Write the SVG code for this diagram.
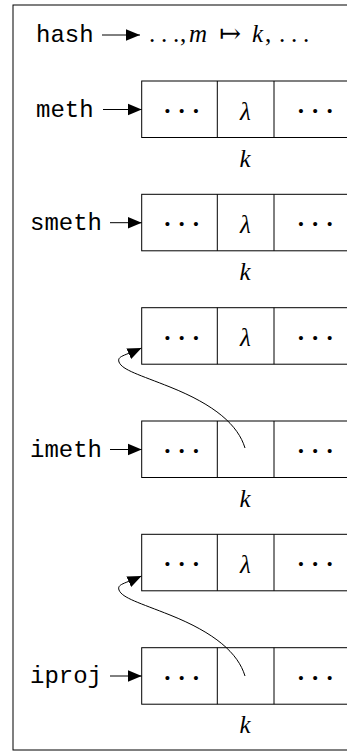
<svg xmlns="http://www.w3.org/2000/svg" width="347" height="751" viewBox="0 0 347 751">
<defs>
<style>
.tt{font-family:"Liberation Mono","DejaVu Sans Mono",monospace;font-size:24px;fill:#000}
.mi{font-family:"Liberation Serif","DejaVu Serif",serif;font-style:italic;font-size:25px;fill:#000}
.rm{font-family:"Liberation Serif","DejaVu Serif",serif;font-size:25px;fill:#000}
.dots{font-family:"Liberation Serif","DejaVu Serif",serif;font-size:34px;letter-spacing:3px;fill:#000}
.box{fill:#fff;stroke:#000;stroke-width:1}
.ln{fill:none;stroke:#000;stroke-width:1}
.ar{fill:none;stroke:#000;stroke-width:1;marker-end:url(#ah)}
</style>
<marker id="ah" markerUnits="userSpaceOnUse" markerWidth="15" markerHeight="13" refX="14" refY="6.5" orient="auto" viewBox="0 0 15 13">
<path d="M0,0.7 L14,6.5 L0,12.3 Z" fill="#000"/>
</marker>
</defs>
<rect x="13" y="5" width="360" height="745" fill="#fff" stroke="#000" stroke-width="1"/>

<g id="hash">
<text class="tt" x="36" y="41.5">hash</text>
<text class="rm" y="41.5"><tspan x="149">.</tspan><tspan x="161">.</tspan><tspan x="173">.</tspan><tspan x="180">,</tspan><tspan x="189" style="font-style:italic">m</tspan><tspan x="219" y="42" style="font-family:'DejaVu Serif',serif;font-size:26px">↦</tspan><tspan x="252" y="41.5" style="font-style:italic">k</tspan><tspan x="265">,</tspan><tspan x="279">.</tspan><tspan x="291">.</tspan><tspan x="303">.</tspan></text>
</g>

<g id="meth">
<text class="tt" x="36" y="117">meth</text>
<rect class="box" x="141.7" y="81" width="220" height="56.5"/>
<line class="ln" x1="217.3" y1="81" x2="217.3" y2="137.5"/>
<line class="ln" x1="274" y1="81" x2="274" y2="137.5"/>
<text class="dots" x="161.7" y="122">···</text>
<text class="mi" x="245.5" y="119.5" text-anchor="middle">λ</text>
<text class="dots" x="295.3" y="122">···</text>
<text class="mi" x="245" y="166.5" text-anchor="middle">k</text>
</g>

<g id="smeth">
<text class="tt" x="30" y="230">smeth</text>
<rect class="box" x="141.7" y="194.3" width="220" height="56.5"/>
<line class="ln" x1="217.3" y1="194.3" x2="217.3" y2="250.8"/>
<line class="ln" x1="274" y1="194.3" x2="274" y2="250.8"/>
<text class="dots" x="161.7" y="235.3">···</text>
<text class="mi" x="245.5" y="232.8" text-anchor="middle">λ</text>
<text class="dots" x="295.3" y="235.3">···</text>
<text class="mi" x="245" y="280" text-anchor="middle">k</text>
</g>

<g id="imeth-target">
<rect class="box" x="141.7" y="307.7" width="220" height="56.5"/>
<line class="ln" x1="217.3" y1="307.7" x2="217.3" y2="364.2"/>
<line class="ln" x1="274" y1="307.7" x2="274" y2="364.2"/>
<text class="dots" x="161.7" y="348.7">···</text>
<text class="mi" x="245.5" y="346.2" text-anchor="middle">λ</text>
<text class="dots" x="295.3" y="348.7">···</text>
</g>

<g id="imeth">
<text class="tt" x="30" y="457">imeth</text>
<rect class="box" x="141.7" y="421" width="220" height="56.5"/>
<line class="ln" x1="217.3" y1="421" x2="217.3" y2="477.5"/>
<line class="ln" x1="274" y1="421" x2="274" y2="477.5"/>
<text class="dots" x="161.7" y="462">···</text>
<text class="dots" x="295.3" y="462">···</text>
<text class="mi" x="245" y="506.5" text-anchor="middle">k</text>
</g>

<g id="iproj-target">
<rect class="box" x="141.7" y="534.3" width="220" height="56.5"/>
<line class="ln" x1="217.3" y1="534.3" x2="217.3" y2="590.8"/>
<line class="ln" x1="274" y1="534.3" x2="274" y2="590.8"/>
<text class="dots" x="161.7" y="575.3">···</text>
<text class="mi" x="245.5" y="572.8" text-anchor="middle">λ</text>
<text class="dots" x="295.3" y="575.3">···</text>
</g>

<g id="iproj">
<text class="tt" x="30" y="683">iproj</text>
<rect class="box" x="141.7" y="647.7" width="220" height="56.5"/>
<line class="ln" x1="217.3" y1="647.7" x2="217.3" y2="704.2"/>
<line class="ln" x1="274" y1="647.7" x2="274" y2="704.2"/>
<text class="dots" x="161.7" y="688.7">···</text>
<text class="dots" x="295.3" y="688.7">···</text>
<text class="mi" x="245" y="733" text-anchor="middle">k</text>
</g>

<g id="connectors">
<line class="ar" x1="102" y1="35" x2="140" y2="35"/>
<line class="ar" x1="103" y1="109.5" x2="141.7" y2="109.5"/>
<line class="ar" x1="110" y1="222.7" x2="141.7" y2="222.7"/>
<line class="ar" x1="110" y1="449.5" x2="141.7" y2="449.5"/>
<line class="ar" x1="110" y1="676" x2="141.7" y2="676"/>
<path class="ar" d="M245,448 C238,425 215,405 170,387 C140,375 122,370 119,362 C117,356 124,356 141.5,348"/>
<path class="ar" d="M245,676 C238,653 215,633 170,615 C140,603 122,598 119,590 C117,584 124,584 141.5,576"/>
</g>
</svg>
